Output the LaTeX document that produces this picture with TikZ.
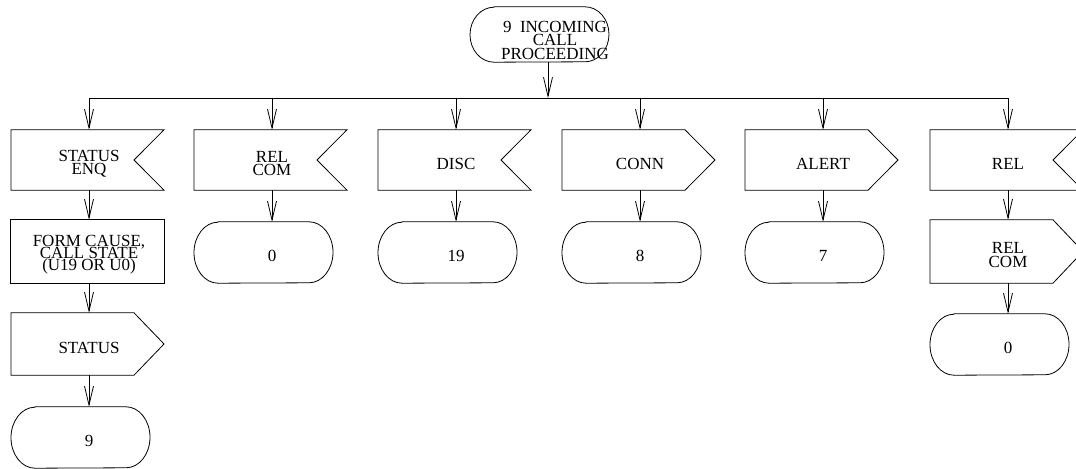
\documentclass[tikz,border=0pt]{standalone}
\usepackage{fontspec}
\setmainfont{Liberation Serif}
\usetikzlibrary{arrows.meta}

% tight serif caps, lines allowed to sit close together
\newcommand\diagfont{\fontsize{17bp}{13.2bp}\selectfont\lineskiplimit=-50bp\relax}
\newcommand\taskfont{\fontsize{17bp}{12bp}\selectfont\lineskiplimit=-50bp\relax}
\newcommand\headfont{\fontsize{17bp}{13.5bp}\selectfont\lineskiplimit=-50bp\relax}

\tikzset{
  line/.style={draw=black, line width=0.8bp},
  flow/.style={line, -{Straight Barb[length=19bp,width=9bp]}},
  lbl/.style={align=center, font=\diagfont, inner sep=0pt, yshift=-3.5bp},
  txt/.style={label={[lbl]center:{#1}}},
  base/.style={inner sep=0pt, minimum width=140bp, minimum height=#1},
  % received signal: notch cut into the right side
  inflag/.style={base=#1, append after command={\pgfextra{
    \draw[line] ([xshift=-78bp]\tikzlastnode.north) -- ([xshift=75bp]\tikzlastnode.north)
      -- ([xshift=45bp]\tikzlastnode.center) -- ([xshift=75bp]\tikzlastnode.south)
      -- ([xshift=-78bp]\tikzlastnode.south) -- cycle;}}},
  % sent signal: point on the right side
  outflag/.style={base=#1, append after command={\pgfextra{
    \draw[line] ([xshift=-78bp]\tikzlastnode.north) -- ([xshift=45bp]\tikzlastnode.north)
      -- ([xshift=75bp]\tikzlastnode.center) -- ([xshift=45bp]\tikzlastnode.south)
      -- ([xshift=-78bp]\tikzlastnode.south) -- cycle;}}},
  % task box
  task/.style={base=#1, append after command={\pgfextra{
    \draw[line] ([xshift=-79bp]\tikzlastnode.north) rectangle ([xshift=75bp]\tikzlastnode.south);}}},
  % state terminal with elliptic ends
  state/.style={base=#1, append after command={\pgfextra{
    \draw[line] ([xshift=-54bp]\tikzlastnode.north) -- ([xshift=37bp]\tikzlastnode.north)
      arc[start angle=90, end angle=-90, x radius=24bp, y radius=0.5*#1]
      -- ([xshift=-54bp]\tikzlastnode.south)
      arc[start angle=270, end angle=90, x radius=24bp, y radius=0.5*#1] -- cycle;}}},
}

\begin{document}
\begin{tikzpicture}[x=1bp, y=-1bp]
\useasboundingbox (0,0) rectangle (1076,469);

% current state
\node[state=55bp, label={[lbl, font=\headfont, xshift=7bp, yshift=-2bp]center:{9~~INCOMING\\CALL\\PROCEEDING}}] (top) at (548,34.5) {};

% distribution line
\coordinate (busT) at (548,98);
\coordinate (bus1) at (89,98);
\coordinate (bus2) at (272,98);
\coordinate (bus3) at (456,98);
\coordinate (bus4) at (640,98);
\coordinate (bus5) at (823,98);
\coordinate (bus6) at (1008,98);

% first row of events
\node[inflag=60bp, txt={STATUS\\ENQ}] (s1) at (89,160) {};
\node[inflag=60bp, txt={REL\\COM}] (s2) at (272,160) {};
\node[inflag=60bp, txt={DISC}] (s3) at (456,160) {};
\node[outflag=60bp, txt={CONN}] (s4) at (640,160) {};
\node[outflag=60bp, txt={ALERT}] (s5) at (823,160) {};
\node[inflag=60bp, txt={REL}] (s6) at (1008,160) {};

% column 1
\node[task=63bp, label={[lbl, font=\taskfont]center:{FORM CAUSE,\\CALL STATE\\(U19 OR U0)}}] (p1) at (89,251.5) {};
\node[outflag=62bp, txt={STATUS}] (o1) at (89,344) {};
\node[state=61bp, txt={9}] (t1) at (89,437.5) {};

% next states
\node[state=61bp, txt={0}] (t2) at (272,252.5) {};
\node[state=61bp, txt={19}] (t3) at (456,252.5) {};
\node[state=61bp, txt={8}] (t4) at (640,252.5) {};
\node[state=61bp, txt={7}] (t5) at (823,252.5) {};

% column 6
\node[outflag=63bp, txt={REL\\COM}] (o6) at (1008,251.5) {};
\node[state=61bp, txt={0}] (t6) at (1008,344.5) {};

% connectors
\draw[line] (bus1) -- (bus6);
\draw[flow] (top.south) -- (busT);
\foreach \i in {1,...,6} \draw[flow] (bus\i) -- (s\i.north);
\draw[flow] (s1.south) -- (p1.north);
\draw[flow] (p1.south) -- (o1.north);
\draw[flow] (o1.south) -- (t1.north);
\foreach \i in {2,...,5} \draw[flow] (s\i.south) -- (t\i.north);
\draw[flow] (s6.south) -- (o6.north);
\draw[flow] (o6.south) -- (t6.north);
\end{tikzpicture}
\end{document}
